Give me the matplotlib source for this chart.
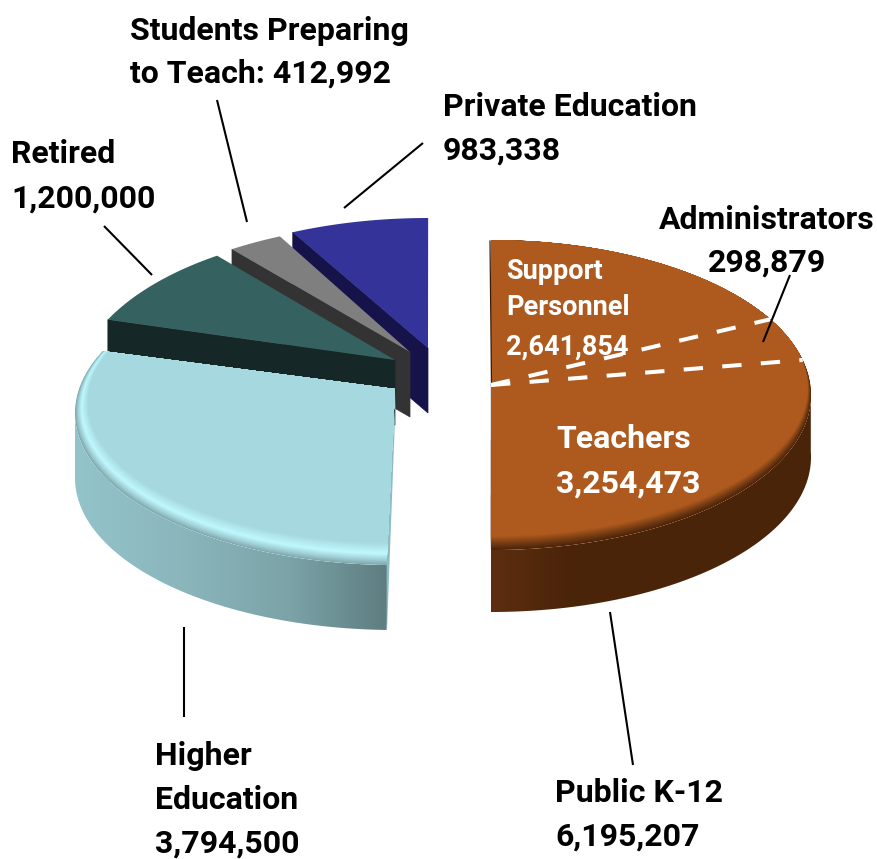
import numpy as np
import matplotlib
matplotlib.use("Agg")
import matplotlib.pyplot as plt
from matplotlib.patches import Polygon, Ellipse
from matplotlib.colors import to_rgb

# ---- data ----
categories = ["Public K-12", "Higher Education", "Retired", "Students Preparing to Teach", "Private Education"]
values = [6195207, 3794500, 1200000, 412992, 983338]
sub_categories = ["Support Personnel", "Administrators", "Teachers"]
sub_values = [2641854, 298879, 3254473]

# ---- drawing style: projection of each exploded slice ----
start_deg = [90, -91.5, 153.8, 123.8, 115]          # clockwise start of each slice
sweep_nudge = [2.8, 4.0, -4.3, -2.0, -3.1]          # perspective correction of the sweep
centers = [(491, 395), (395, 413), (395, 392), (410, 378), (428, 370)]
apexes = [(491, 385), (395, 389), (395, 360), (410, 352), (428, 348)]
radii = [(320, 155), (320, 152), (320, 164), (320, 155), (320, 152)]
depths = [62, 65, 65, 65, 65]
top_colors = ["#AE5A1E", "#A6D9DF", "#356260", "#7F7F7F", "#333399"]
cut_colors = ["#3A1B07", "#8FBCC2", "#152726", "#333333", "#15134A"]
draw_order = [4, 3, 2, 1, 0]
divider_nudge = [16.0, 8.5]

fig = plt.figure(figsize=(8.77, 8.59), dpi=100, facecolor="white")
ax = fig.add_axes([0, 0, 1, 1])
ax.axis("off")

total = sum(values)
sweeps = [v / total * 360 + n for v, n in zip(values, sweep_nudge)]


def arc(i, t1, t2, dy=0, n=200):
    th = np.radians(np.linspace(t1, t2, n))
    cx, cy = centers[i]
    rx, ry = radii[i]
    return np.column_stack([cx + rx * np.cos(th), cy - ry * np.sin(th) + dy])


def mix(stops, t):
    xs = [s[0] for s in stops]
    cols = np.array([to_rgb(s[1]) for s in stops])
    return tuple(np.interp(t, xs, cols[:, j]) for j in range(3))


wall_stops = {
    0: [(492, "#5E2E10"), (570, "#4A2409"), (811, "#4A2409")],
    1: [(75, "#93C4CA"), (180, "#8AB6BC"), (290, "#7BA3A8"), (387, "#5E7D80")],
}
rim_stops = {
    0: (4, 8, [(0, "#4A2409"), (0.3, "#6A3611"), (0.85, "#AE5A1E"), (1, "#AE5A1E")]),
    1: (13, 11, [(0, "#7FA8AD"), (0.22, "#A0D0D6"), (0.5, "#BFF8FF"), (1, "#A6D9DF")]),
}
wall_range = {0: (-90, 2), 1: (-180, -91.5)}

for i in draw_order:
    t1 = start_deg[i]
    t2 = t1 - sweeps[i]
    ap = np.array(apexes[i])
    d = depths[i]
    a = arc(i, t1, t2)
    corner = a[0]
    z = 10 + (4 - i) * 4

    # cut face of the slices at the back
    if i in (2, 3, 4):
        ax.add_patch(Polygon([corner, ap, ap + [0, d], corner + [0, d]], closed=True,
                             fc=cut_colors[i], ec=cut_colors[i], lw=0.5, zorder=z))
    if i == 1:
        ax.add_patch(Polygon([(396, 392), (387, 630), (384, 600), (385, 560)], closed=True,
                             fc=cut_colors[1], ec="none", zorder=z))

    # curved wall with a horizontal gradient
    if i in wall_range:
        lo, hi = wall_range[i]
        wall = Polygon(np.vstack([arc(i, lo, hi), arc(i, hi, lo, dy=d)]), closed=True,
                       fc="none", ec="none", zorder=z)
        ax.add_patch(wall)
        xs = np.linspace(70, 815, 400)
        grad = np.array([[mix(wall_stops[i], x) for x in xs]])
        im = ax.imshow(grad, extent=(70, 815, 700, 300), aspect="auto", zorder=z, interpolation="bilinear")
        im.set_clip_path(wall)

    # top face
    face = Polygon(np.vstack([ap, a]), closed=True, fc=top_colors[i], ec="none", zorder=z + 1)
    ax.add_patch(face)

    # bevelled rim: nested ellipses clipped by the face
    if i in rim_stops:
        wx, wy, stops = rim_stops[i]
        cx, cy = centers[i]
        rx, ry = radii[i]
        for k in np.linspace(0, 1, 30):
            e = Ellipse((cx, cy - wy * k), 2 * (rx - wx * k), 2 * (ry - wy * k),
                        fc=mix(stops, k), ec="none", zorder=z + 2)
            ax.add_patch(e)
            e.set_clip_path(face)

ax.set_xlim(0, 877)
ax.set_ylim(859, 0)

# thin dark cut edge along the left side of the K-12 slice
ax.plot([490, 491.5], [241, 385], color="#3A1B07", lw=0.9, zorder=40)

# dashed dividers of the K-12 slice, from the sub-values
cum = np.cumsum(sub_values[:2]) / sum(sub_values)
for c, n in zip(cum, divider_nudge):
    th = 90 - c * 180 + n
    p = arc(0, th, th, n=1)[0]
    ax.plot([apexes[0][0], p[0]], [apexes[0][1], p[1]], color="white", lw=2.9,
            ls=(0, (4.8, 4.8)), zorder=41)

# leader lines
leaders = [((344, 208), (423, 143)), ((247, 222), (217, 100)), ((152, 275), (104, 226)),
           ((184, 627), (184, 717)), ((610, 612), (633, 765)), ((763, 342), (790, 275))]
for (x0, y0), (x1, y1) in leaders:
    ax.plot([x0, x1], [y0, y1], color="black", lw=1.5, zorder=50, solid_capstyle="butt")

FONT = ["Roboto", "Liberation Sans", "DejaVu Sans"]


def label(x, y, s, color="black", size=23, ha="left"):
    ax.text(x, y, s, family=FONT, weight="bold", fontsize=size, color=color,
            ha=ha, va="baseline", zorder=60)


label(130, 40, "Students Preparing")
label(130, 83, f"to Teach: {values[3]:,}")
label(443, 116, categories[4])
label(443, 160, f"{values[4]:,}")
label(11, 163, categories[2])
label(11, 208, f"{values[2]:,}")
label(767, 229, sub_categories[1], ha="center")
label(767, 272, f"{sub_values[1]:,}", ha="center")
label(155, 765, "Higher")
label(155, 809, "Education")
label(155, 853, f"{values[1]:,}")
label(555, 802, categories[0])
label(555, 846, f"{values[0]:,}")
label(506, 279, "Support", "white", 19.5)
label(506, 315, "Personnel", "white", 19.5)
label(506, 355, f"{sub_values[0]:,}", "white", 19.5)
label(556, 448, sub_categories[2], "white")
label(556, 493, f"{sub_values[2]:,}", "white")

fig.savefig("out.png", dpi=100, facecolor="white")
